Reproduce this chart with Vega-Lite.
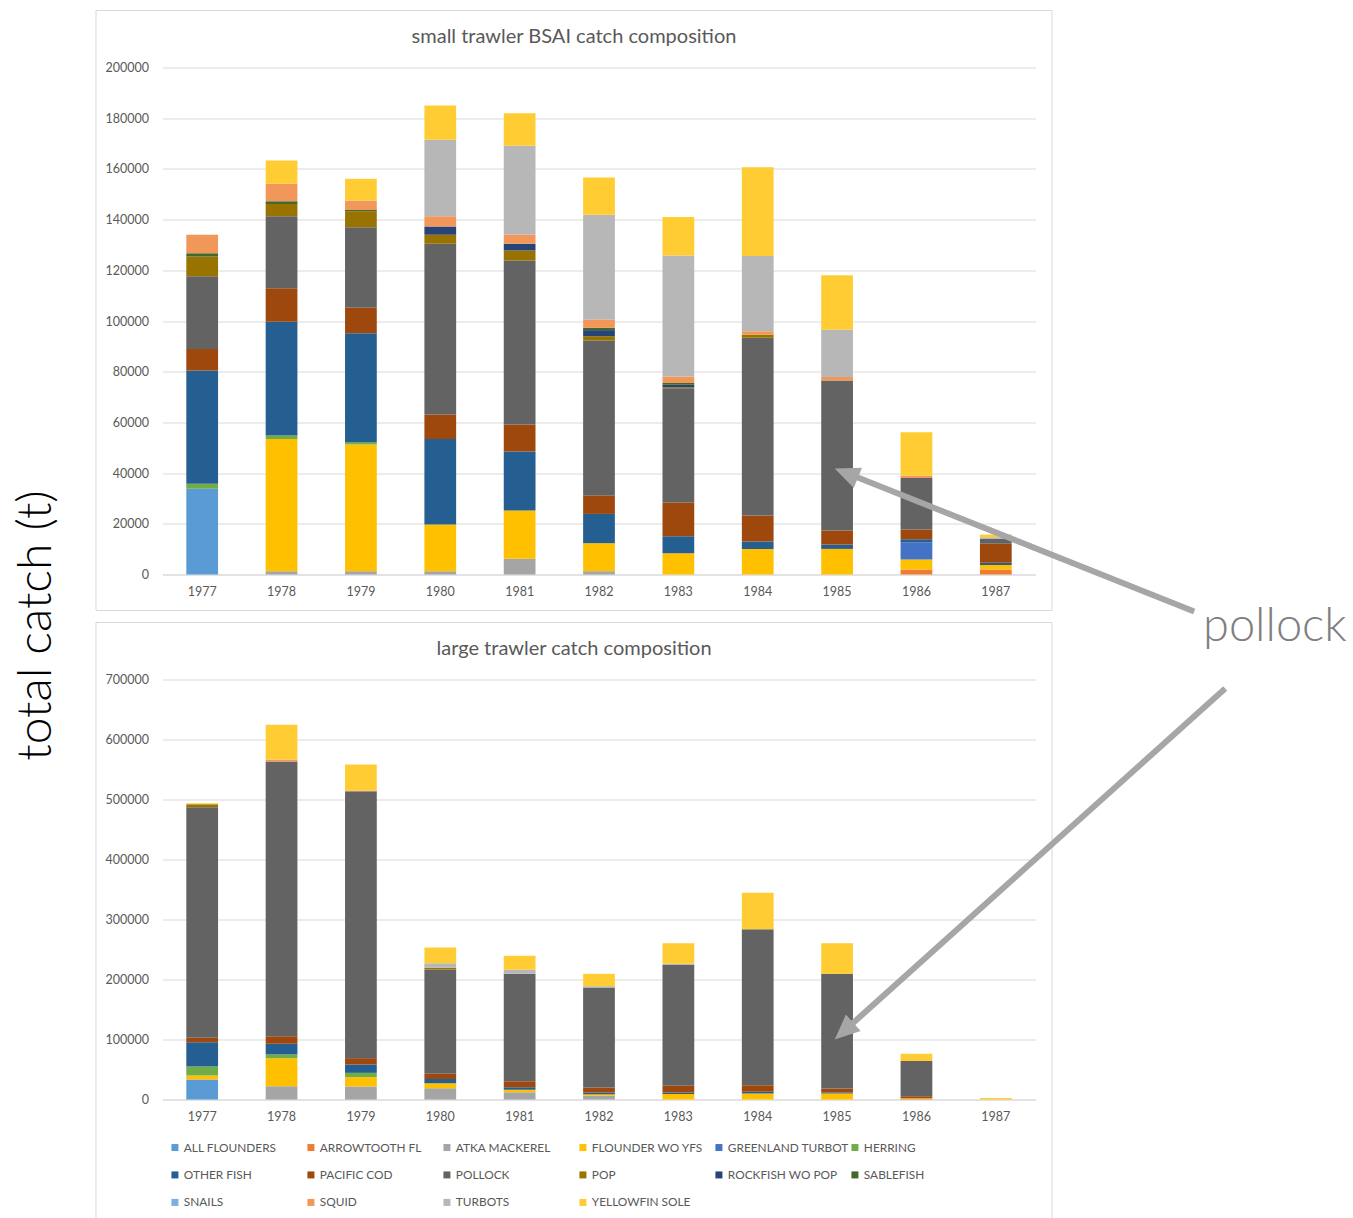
{
  "$schema": "https://vega.github.io/schema/vega-lite/v6.json",
  "padding": {"left": 12.5, "top": 9.5, "right": 5, "bottom": 0},
  "background": "white",
  "config": {
    "font": "Lato",
    "view": {"stroke": null},
    "axis": {"labelColor": "#595959", "labelFont": "Lato", "labelFontSize": 12.5, "domain": false, "ticks": false, "gridColor": "#d9d9d9", "gridWidth": 1},
    "legend": {"labelFont": "Lato"}
  },
  "datasets": {
    "small": [
      {"year": 1977, "species": "ALL FLOUNDERS", "catch": 33800},
      {"year": 1977, "species": "HERRING", "catch": 2000},
      {"year": 1977, "species": "OTHER FISH", "catch": 44700},
      {"year": 1977, "species": "PACIFIC COD", "catch": 8500},
      {"year": 1977, "species": "POLLOCK", "catch": 28700},
      {"year": 1977, "species": "POP", "catch": 7750},
      {"year": 1977, "species": "SABLEFISH", "catch": 1300},
      {"year": 1977, "species": "SQUID", "catch": 7250},
      {"year": 1978, "species": "ATKA MACKEREL", "catch": 1300},
      {"year": 1978, "species": "FLOUNDER WO YFS", "catch": 52200},
      {"year": 1978, "species": "HERRING", "catch": 1300},
      {"year": 1978, "species": "OTHER FISH", "catch": 44900},
      {"year": 1978, "species": "PACIFIC COD", "catch": 13250},
      {"year": 1978, "species": "POLLOCK", "catch": 28350},
      {"year": 1978, "species": "POP", "catch": 4900},
      {"year": 1978, "species": "SABLEFISH", "catch": 1000},
      {"year": 1978, "species": "SQUID", "catch": 6900},
      {"year": 1978, "species": "YELLOWFIN SOLE", "catch": 9200},
      {"year": 1979, "species": "ATKA MACKEREL", "catch": 1300},
      {"year": 1979, "species": "FLOUNDER WO YFS", "catch": 50000},
      {"year": 1979, "species": "HERRING", "catch": 900},
      {"year": 1979, "species": "OTHER FISH", "catch": 43000},
      {"year": 1979, "species": "PACIFIC COD", "catch": 10000},
      {"year": 1979, "species": "POLLOCK", "catch": 31800},
      {"year": 1979, "species": "POP", "catch": 6300},
      {"year": 1979, "species": "SABLEFISH", "catch": 500},
      {"year": 1979, "species": "SQUID", "catch": 3700},
      {"year": 1979, "species": "YELLOWFIN SOLE", "catch": 8600},
      {"year": 1980, "species": "ATKA MACKEREL", "catch": 1300},
      {"year": 1980, "species": "FLOUNDER WO YFS", "catch": 18400},
      {"year": 1980, "species": "OTHER FISH", "catch": 33800},
      {"year": 1980, "species": "PACIFIC COD", "catch": 9600},
      {"year": 1980, "species": "POLLOCK", "catch": 67350},
      {"year": 1980, "species": "POP", "catch": 3550},
      {"year": 1980, "species": "ROCKFISH WO POP", "catch": 3300},
      {"year": 1980, "species": "SQUID", "catch": 4050},
      {"year": 1980, "species": "TURBOTS", "catch": 30150},
      {"year": 1980, "species": "YELLOWFIN SOLE", "catch": 13500},
      {"year": 1981, "species": "ATKA MACKEREL", "catch": 6200},
      {"year": 1981, "species": "FLOUNDER WO YFS", "catch": 19000},
      {"year": 1981, "species": "OTHER FISH", "catch": 23300},
      {"year": 1981, "species": "PACIFIC COD", "catch": 10700},
      {"year": 1981, "species": "POLLOCK", "catch": 64700},
      {"year": 1981, "species": "POP", "catch": 3900},
      {"year": 1981, "species": "ROCKFISH WO POP", "catch": 2650},
      {"year": 1981, "species": "SQUID", "catch": 3550},
      {"year": 1981, "species": "TURBOTS", "catch": 35100},
      {"year": 1981, "species": "YELLOWFIN SOLE", "catch": 12900},
      {"year": 1982, "species": "ATKA MACKEREL", "catch": 1300},
      {"year": 1982, "species": "FLOUNDER WO YFS", "catch": 11050},
      {"year": 1982, "species": "OTHER FISH", "catch": 11550},
      {"year": 1982, "species": "PACIFIC COD", "catch": 7300},
      {"year": 1982, "species": "POLLOCK", "catch": 61100},
      {"year": 1982, "species": "POP", "catch": 1700},
      {"year": 1982, "species": "ROCKFISH WO POP", "catch": 2400},
      {"year": 1982, "species": "SABLEFISH", "catch": 900},
      {"year": 1982, "species": "SQUID", "catch": 3300},
      {"year": 1982, "species": "TURBOTS", "catch": 41300},
      {"year": 1982, "species": "YELLOWFIN SOLE", "catch": 14700},
      {"year": 1983, "species": "FLOUNDER WO YFS", "catch": 8400},
      {"year": 1983, "species": "OTHER FISH", "catch": 6700},
      {"year": 1983, "species": "PACIFIC COD", "catch": 13300},
      {"year": 1983, "species": "POLLOCK", "catch": 45100},
      {"year": 1983, "species": "POP", "catch": 400},
      {"year": 1983, "species": "ROCKFISH WO POP", "catch": 1000},
      {"year": 1983, "species": "SABLEFISH", "catch": 600},
      {"year": 1983, "species": "SQUID", "catch": 2600},
      {"year": 1983, "species": "TURBOTS", "catch": 47700},
      {"year": 1983, "species": "YELLOWFIN SOLE", "catch": 15200},
      {"year": 1984, "species": "FLOUNDER WO YFS", "catch": 10100},
      {"year": 1984, "species": "OTHER FISH", "catch": 2900},
      {"year": 1984, "species": "PACIFIC COD", "catch": 10300},
      {"year": 1984, "species": "POLLOCK", "catch": 70100},
      {"year": 1984, "species": "POP", "catch": 1200},
      {"year": 1984, "species": "SQUID", "catch": 1400},
      {"year": 1984, "species": "TURBOTS", "catch": 29600},
      {"year": 1984, "species": "YELLOWFIN SOLE", "catch": 35100},
      {"year": 1985, "species": "FLOUNDER WO YFS", "catch": 10100},
      {"year": 1985, "species": "OTHER FISH", "catch": 1700},
      {"year": 1985, "species": "PACIFIC COD", "catch": 5550},
      {"year": 1985, "species": "POLLOCK", "catch": 59150},
      {"year": 1985, "species": "SQUID", "catch": 1400},
      {"year": 1985, "species": "TURBOTS", "catch": 18600},
      {"year": 1985, "species": "YELLOWFIN SOLE", "catch": 21500},
      {"year": 1986, "species": "ARROWTOOTH FL", "catch": 2000},
      {"year": 1986, "species": "FLOUNDER WO YFS", "catch": 3900},
      {"year": 1986, "species": "GREENLAND TURBOT", "catch": 6800},
      {"year": 1986, "species": "OTHER FISH", "catch": 1200},
      {"year": 1986, "species": "PACIFIC COD", "catch": 3850},
      {"year": 1986, "species": "POLLOCK", "catch": 20350},
      {"year": 1986, "species": "SQUID", "catch": 950},
      {"year": 1986, "species": "YELLOWFIN SOLE", "catch": 17050},
      {"year": 1987, "species": "ARROWTOOTH FL", "catch": 2000},
      {"year": 1987, "species": "FLOUNDER WO YFS", "catch": 1700},
      {"year": 1987, "species": "OTHER FISH", "catch": 900},
      {"year": 1987, "species": "PACIFIC COD", "catch": 7500},
      {"year": 1987, "species": "POLLOCK", "catch": 1900},
      {"year": 1987, "species": "TURBOTS", "catch": 700},
      {"year": 1987, "species": "YELLOWFIN SOLE", "catch": 1100}
    ],
    "large": [
      {"year": 1977, "species": "ALL FLOUNDERS", "catch": 33300},
      {"year": 1977, "species": "FLOUNDER WO YFS", "catch": 6700},
      {"year": 1977, "species": "HERRING", "catch": 15000},
      {"year": 1977, "species": "OTHER FISH", "catch": 40500},
      {"year": 1977, "species": "PACIFIC COD", "catch": 7500},
      {"year": 1977, "species": "POLLOCK", "catch": 384200},
      {"year": 1977, "species": "POP", "catch": 4700},
      {"year": 1977, "species": "YELLOWFIN SOLE", "catch": 2000},
      {"year": 1978, "species": "ATKA MACKEREL", "catch": 22200},
      {"year": 1978, "species": "FLOUNDER WO YFS", "catch": 46700},
      {"year": 1978, "species": "HERRING", "catch": 6100},
      {"year": 1978, "species": "OTHER FISH", "catch": 17800},
      {"year": 1978, "species": "PACIFIC COD", "catch": 12800},
      {"year": 1978, "species": "POLLOCK", "catch": 457700},
      {"year": 1978, "species": "SQUID", "catch": 3400},
      {"year": 1978, "species": "YELLOWFIN SOLE", "catch": 57700},
      {"year": 1979, "species": "ATKA MACKEREL", "catch": 21700},
      {"year": 1979, "species": "FLOUNDER WO YFS", "catch": 15500},
      {"year": 1979, "species": "HERRING", "catch": 7200},
      {"year": 1979, "species": "OTHER FISH", "catch": 13900},
      {"year": 1979, "species": "PACIFIC COD", "catch": 10600},
      {"year": 1979, "species": "POLLOCK", "catch": 444700},
      {"year": 1979, "species": "SQUID", "catch": 1400},
      {"year": 1979, "species": "YELLOWFIN SOLE", "catch": 43300},
      {"year": 1980, "species": "ATKA MACKEREL", "catch": 18900},
      {"year": 1980, "species": "FLOUNDER WO YFS", "catch": 8300},
      {"year": 1980, "species": "OTHER FISH", "catch": 6800},
      {"year": 1980, "species": "PACIFIC COD", "catch": 8800},
      {"year": 1980, "species": "POLLOCK", "catch": 173900},
      {"year": 1980, "species": "POP", "catch": 2800},
      {"year": 1980, "species": "TURBOTS", "catch": 7700},
      {"year": 1980, "species": "YELLOWFIN SOLE", "catch": 26100},
      {"year": 1981, "species": "ATKA MACKEREL", "catch": 12200},
      {"year": 1981, "species": "FLOUNDER WO YFS", "catch": 3900},
      {"year": 1981, "species": "OTHER FISH", "catch": 4500},
      {"year": 1981, "species": "PACIFIC COD", "catch": 10000},
      {"year": 1981, "species": "POLLOCK", "catch": 178800},
      {"year": 1981, "species": "TURBOTS", "catch": 6700},
      {"year": 1981, "species": "YELLOWFIN SOLE", "catch": 23300},
      {"year": 1982, "species": "ATKA MACKEREL", "catch": 6100},
      {"year": 1982, "species": "FLOUNDER WO YFS", "catch": 2500},
      {"year": 1982, "species": "OTHER FISH", "catch": 3000},
      {"year": 1982, "species": "PACIFIC COD", "catch": 8400},
      {"year": 1982, "species": "POLLOCK", "catch": 166500},
      {"year": 1982, "species": "TURBOTS", "catch": 2400},
      {"year": 1982, "species": "YELLOWFIN SOLE", "catch": 20500},
      {"year": 1983, "species": "FLOUNDER WO YFS", "catch": 9000},
      {"year": 1983, "species": "OTHER FISH", "catch": 2600},
      {"year": 1983, "species": "PACIFIC COD", "catch": 11200},
      {"year": 1983, "species": "POLLOCK", "catch": 201500},
      {"year": 1983, "species": "TURBOTS", "catch": 1800},
      {"year": 1983, "species": "YELLOWFIN SOLE", "catch": 34400},
      {"year": 1984, "species": "FLOUNDER WO YFS", "catch": 10000},
      {"year": 1984, "species": "OTHER FISH", "catch": 2800},
      {"year": 1984, "species": "PACIFIC COD", "catch": 11100},
      {"year": 1984, "species": "POLLOCK", "catch": 260000},
      {"year": 1984, "species": "YELLOWFIN SOLE", "catch": 60600},
      {"year": 1985, "species": "FLOUNDER WO YFS", "catch": 10000},
      {"year": 1985, "species": "OTHER FISH", "catch": 1700},
      {"year": 1985, "species": "PACIFIC COD", "catch": 6600},
      {"year": 1985, "species": "POLLOCK", "catch": 191100},
      {"year": 1985, "species": "YELLOWFIN SOLE", "catch": 51100},
      {"year": 1986, "species": "ARROWTOOTH FL", "catch": 1000},
      {"year": 1986, "species": "FLOUNDER WO YFS", "catch": 1000},
      {"year": 1986, "species": "PACIFIC COD", "catch": 3600},
      {"year": 1986, "species": "POLLOCK", "catch": 58400},
      {"year": 1986, "species": "YELLOWFIN SOLE", "catch": 12100},
      {"year": 1987, "species": "FLOUNDER WO YFS", "catch": 500},
      {"year": 1987, "species": "YELLOWFIN SOLE", "catch": 1800}
    ]
  },
  "vconcat": [
    {
      "width": 873,
      "height": 507,
      "title": {"text": "small trawler BSAI catch composition", "fontSize": 20, "fontWeight": "normal", "color": "#595959", "font": "Lato", "dx": -25, "offset": -37, "frame": "group", "anchor": "middle"},
      "layer": [
        {
          "data": {"name": "small"},
          "mark": {"type": "bar"},
          "encoding": {
            "x": {"field": "year", "type": "ordinal", "scale": {"paddingInner": 0.6, "paddingOuter": 0.3}, "axis": {"title": null, "labelAngle": 0, "domain": true, "domainColor": "#d9d9d9", "labelPadding": 11}},
            "y": {"field": "catch", "type": "quantitative", "stack": "zero", "scale": {"domain": [0, 200000], "nice": false}, "axis": {"title": null, "format": "d", "values": [0, 20000, 40000, 60000, 80000, 100000, 120000, 140000, 160000, 180000, 200000], "labelPadding": 14, "grid": true}},
            "color": {"field": "species", "type": "nominal", "scale": {"domain": ["ALL FLOUNDERS", "ARROWTOOTH FL", "ATKA MACKEREL", "FLOUNDER WO YFS", "GREENLAND TURBOT", "HERRING", "OTHER FISH", "PACIFIC COD", "POLLOCK", "POP", "ROCKFISH WO POP", "SABLEFISH", "SNAILS", "SQUID", "TURBOTS", "YELLOWFIN SOLE"], "range": ["#5B9BD5", "#ED7D31", "#A5A5A5", "#FFC000", "#4472C4", "#70AD47", "#255E91", "#9E480E", "#636363", "#997300", "#264478", "#43682B", "#7CAFDD", "#F1975A", "#B7B7B7", "#FFCD33"]}, "legend": null},
            "order": {"field": "species", "sort": "ascending"}
          }
        },
        {
          "data": {"values": [{}]},
          "layer": [
            {
              "mark": {"type": "rect", "fill": null, "stroke": "#d9d9d9", "strokeWidth": 1, "clip": false},
              "encoding": {
                "x": {"datum": 1975.662, "type": "quantitative", "scale": {"domain": [1976.5, 1987.5], "nice": false, "zero": false}, "axis": null},
                "x2": {"datum": 1987.708},
                "y": {"datum": 222487, "type": "quantitative", "scale": {"domain": [0, 200000], "nice": false}},
                "y2": {"datum": -14201}
              }
            },
            {
              "mark": {"type": "rule", "stroke": "#a6a6a6", "strokeWidth": 6, "clip": false},
              "encoding": {
                "x": {"datum": 1989.5, "type": "quantitative"},
                "y": {"datum": -14600, "type": "quantitative"},
                "x2": {"datum": 1985.15},
                "y2": {"datum": 39640}
              }
            },
            {
              "mark": {"type": "point", "shape": "M0,0L1.1,2.5L-1.1,2.5Z", "size": 400, "filled": true, "color": "#a6a6a6", "opacity": 1, "strokeWidth": 0, "angle": 292, "clip": false},
              "encoding": {
                "x": {"datum": 1984.97, "type": "quantitative"},
                "y": {"datum": 41800, "type": "quantitative"}
              }
            },
            {
              "mark": {"type": "text", "text": "pollock", "fontSize": 47, "font": "Lato", "fontWeight": 300, "color": "#7f7f7f", "align": "left", "baseline": "alphabetic", "clip": false},
              "encoding": {
                "x": {"datum": 1989.61, "type": "quantitative"},
                "y": {"datum": -26036, "type": "quantitative"}
              }
            },
            {
              "mark": {"type": "text", "text": "total catch (t)", "angle": 270, "fontSize": 48, "font": "Lato", "fontWeight": 300, "color": "#000000", "align": "center", "baseline": "alphabetic", "clip": false},
              "encoding": {
                "x": {"datum": 1975.1, "type": "quantitative"},
                "y": {"datum": -20118, "type": "quantitative"}
              }
            }
          ]
        }
      ],
      "resolve": {"scale": {"x": "independent"}}
    },
    {
      "width": 873,
      "height": 420,
      "title": {"text": "large trawler catch composition", "fontSize": 20, "fontWeight": "normal", "color": "#595959", "font": "Lato", "dx": -25, "offset": -37, "frame": "group", "anchor": "middle"},
      "layer": [
        {
          "data": {"name": "large"},
          "mark": {"type": "bar"},
          "encoding": {
            "x": {"field": "year", "type": "ordinal", "scale": {"paddingInner": 0.6, "paddingOuter": 0.3}, "axis": {"title": null, "labelAngle": 0, "domain": true, "domainColor": "#d9d9d9", "labelPadding": 11}},
            "y": {"field": "catch", "type": "quantitative", "stack": "zero", "scale": {"domain": [0, 700000], "nice": false}, "axis": {"title": null, "format": "d", "values": [0, 100000, 200000, 300000, 400000, 500000, 600000, 700000], "labelPadding": 14, "grid": true}},
            "color": {"field": "species", "type": "nominal", "scale": {"domain": ["ALL FLOUNDERS", "ARROWTOOTH FL", "ATKA MACKEREL", "FLOUNDER WO YFS", "GREENLAND TURBOT", "HERRING", "OTHER FISH", "PACIFIC COD", "POLLOCK", "POP", "ROCKFISH WO POP", "SABLEFISH", "SNAILS", "SQUID", "TURBOTS", "YELLOWFIN SOLE"], "range": ["#5B9BD5", "#ED7D31", "#A5A5A5", "#FFC000", "#4472C4", "#70AD47", "#255E91", "#9E480E", "#636363", "#997300", "#264478", "#43682B", "#7CAFDD", "#F1975A", "#B7B7B7", "#FFCD33"]}, "legend": {"orient": "none", "legendX": 6.5, "legendY": 462, "columns": 6, "direction": "horizontal", "title": null, "symbolType": "square", "symbolSize": 49, "symbolStrokeWidth": 0, "labelFontSize": 11.85, "labelColor": "#595959", "gridAlign": "all", "columnPadding": 0, "rowPadding": 14.5, "labelOffset": 3, "labelLimit": 200, "padding": 0}},
            "order": {"field": "species", "sort": "ascending"}
          }
        },
        {
          "data": {"values": [{}]},
          "layer": [
            {
              "mark": {"type": "rect", "fill": null, "stroke": "#d9d9d9", "strokeWidth": 1, "clip": false},
              "encoding": {
                "x": {"datum": 1975.662, "type": "quantitative", "scale": {"domain": [1976.5, 1987.5], "nice": false, "zero": false}, "axis": null},
                "x2": {"datum": 1987.708},
                "y": {"datum": 795000, "type": "quantitative", "scale": {"domain": [0, 700000], "nice": false}},
                "y2": {"datum": -210000}
              }
            },
            {
              "mark": {"type": "rule", "stroke": "#a6a6a6", "strokeWidth": 6, "clip": false},
              "encoding": {
                "x": {"datum": 1989.89, "type": "quantitative"},
                "y": {"datum": 685000, "type": "quantitative"},
                "x2": {"datum": 1985.11},
                "y2": {"datum": 116700}
              }
            },
            {
              "mark": {"type": "point", "shape": "M0,0L1.1,2.5L-1.1,2.5Z", "size": 400, "filled": true, "color": "#a6a6a6", "opacity": 1, "strokeWidth": 0, "angle": 228, "clip": false},
              "encoding": {
                "x": {"datum": 1984.97, "type": "quantitative"},
                "y": {"datum": 100000, "type": "quantitative"}
              }
            }
          ]
        }
      ],
      "resolve": {"scale": {"x": "independent"}}
    }
  ],
  "bounds": "flush",
  "spacing": 105,
  "resolve": {"scale": {"color": "independent"}, "legend": {"color": "independent"}}
}
